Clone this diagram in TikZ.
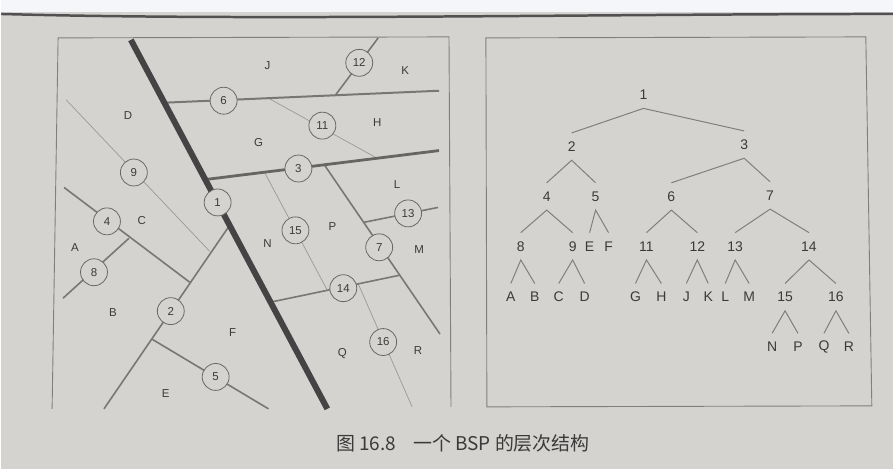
\documentclass[tikz,border=0pt]{standalone}
\usepackage{fontspec}
\setmainfont{Liberation Sans}
\newfontfamily\cjk{Noto Sans CJK SC}
\definecolor{page}{HTML}{D5D3D0}
\definecolor{ink}{HTML}{3A3A3A}
\definecolor{topstrip}{HTML}{F4F6FA}
\begin{document}
\begin{tikzpicture}[x=1pt,y=-1pt,
  frame/.style={draw=ink!55!page, line width=0.9},
  heavy/.style={draw=ink!95, line width=6},
  midln/.style={draw=ink!72!page, line width=2.8},
  regln/.style={draw=ink!60!page, line width=1.6},
  faintln/.style={draw=ink!38!page, line width=0.7},
  circ/.style={circle, draw=ink!70!page, line width=0.8, fill=page, minimum size=27pt, inner sep=0pt, text=ink, font=\fontsize{11.5}{12}\selectfont},
  rlab/.style={text=ink, font=\fontsize{11.5}{12}\selectfont},
  tn/.style={text=ink, font=\fontsize{14}{16}\selectfont, minimum height=27pt, inner sep=0pt},
  tl/.style={draw=ink!55!page, line width=1}
]
% background
\fill[page] (0,0) rectangle (894,470);
\fill[topstrip] (0,0) rectangle (894,12.5);
\draw[line width=2.5, draw=ink!85!page] (0,14) .. controls (250,21) and (600,14) .. (894,14);

% frames
\draw[frame] (51,410) -- (57,38) -- (449,37) -- (451,408);
\draw[frame] (487,408) -- (486,38) -- (867,37) -- (873,407) -- cycle;

% ---------- left panel: partition lines ----------
\coordinate (h0) at (130,40);
\coordinate (h1) at (327,410);
\coordinate (a6) at (163.5,103);   \coordinate (b6) at (439,91);
\coordinate (a12) at (335,95.6);   \coordinate (b12) at (378,38);
\coordinate (a3) at (205,180);     \coordinate (b3) at (439,151);
\coordinate (a11) at (268,98.5);   \coordinate (b11) at (377,158.7);
\coordinate (a7) at (324,165.3);   \coordinate (b7) at (440,335);
\coordinate (a13) at (363.4,223);  \coordinate (b13) at (438,208);
\coordinate (a14) at (270,303);    \coordinate (b14) at (399.5,276);
\coordinate (a15) at (264,172.8);  \coordinate (b15) at (327,291.1);
\coordinate (a16) at (358,284.7);  \coordinate (b16) at (412,408);
\coordinate (a2) at (229,226);     \coordinate (b2) at (103,410);
\coordinate (a5) at (151,340);     \coordinate (b5) at (268,410);
\coordinate (a4) at (63,188);      \coordinate (b4) at (189,283);
\coordinate (a8) at (128,239);     \coordinate (b8) at (62,299);
\coordinate (a9) at (65,100);      \coordinate (b9) at (209,252);

\draw[faintln] (a9) -- (b9);
\draw[faintln] (a11) -- (b11);
\draw[faintln] (a15) -- (b15);
\draw[faintln] (a16) -- (b16);
\draw[regln] (a12) -- (b12);
\draw[regln] (a13) -- (b13);
\draw[regln] (a14) -- (b14);
\draw[regln] (a7) -- (b7);
\draw[regln] (a4) -- (b4);
\draw[regln] (a8) -- (b8);
\draw[regln] (a5) -- (b5);
\draw[regln] (a2) -- (b2);
\draw[regln, line width=2] (a6) -- (b6);
\draw[midln] (a3) -- (b3);
\draw[heavy] (h0) -- (h1);

% circles
\node[circ] (c1) at (217,203) {1};
\node[circ] (c2) at (170,312) {2};
\node[circ] (c3) at (298,169) {3};
\node[circ] (c4) at (106,222) {4};
\node[circ] (c5) at (215,378) {5};
\node[circ] (c6) at (223,101) {6};
\node[circ] (c7) at (379,248) {7};
\node[circ] (c8) at (93,273) {8};
\node[circ] (c9) at (133,173) {9};
\node[circ] (c11) at (322,126) {11};
\node[circ] (c12) at (359,63) {12};
\node[circ] (c13) at (408,214) {13};
\node[circ] (c14) at (343,289) {14};
\node[circ] (c15) at (295,231) {15};
\node[circ] (c16) at (383,343) {16};

% region labels
\node[rlab] (rJ) at (267,66) {J};
\node[rlab] (rK) at (405,71) {K};
\node[rlab] (rD) at (127,116) {D};
\node[rlab] (rG) at (258,143) {G};
\node[rlab] (rH) at (377,123) {H};
\node[rlab] (rL) at (397,185) {L};
\node[rlab] (rC) at (141,221) {C};
\node[rlab] (rA) at (74,248) {A};
\node[rlab] (rB) at (112,313) {B};
\node[rlab] (rN) at (267,244) {N};
\node[rlab] (rP) at (332,227) {P};
\node[rlab] (rM) at (419,250) {M};
\node[rlab] (rF) at (232,333) {F};
\node[rlab] (rE) at (165,395) {E};
\node[rlab] (rQ) at (342,355) {Q};
\node[rlab] (rR) at (418,352) {R};

% ---------- right panel: tree ----------
\node[tn] (t1) at (644,95) {1};
\node[tn] (t2) at (572,147) {2};
\node[tn] (t3) at (745,145) {3};
\node[tn] (t4) at (547,197) {4};
\node[tn] (t5) at (596,197) {5};
\node[tn] (t6) at (672,197) {6};
\node[tn] (t7) at (771,196) {7};
\node[tn] (t8) at (521,247) {8};
\node[tn] (t9) at (573,247) {9};
\node[tn] (tE) at (590,247) {E};
\node[tn] (tF) at (609,247) {F};
\node[tn] (t11) at (647,247) {11};
\node[tn] (t12) at (698,247) {12};
\node[tn] (t13) at (736,247) {13};
\node[tn] (t14) at (810,247) {14};
\node[tn] (tA) at (511,298) {A};
\node[tn] (tB) at (535,298) {B};
\node[tn] (tC) at (559,298) {C};
\node[tn] (tD) at (585,298) {D};
\node[tn] (tG) at (636,298) {G};
\node[tn] (tH) at (662,298) {H};
\node[tn] (tJ) at (687,298) {J};
\node[tn] (tK) at (709,298) {K};
\node[tn] (tL) at (726,298) {L};
\node[tn] (tM) at (750,298) {M};
\node[tn] (t15) at (786,298) {15};
\node[tn] (t16) at (837,298) {16};
\node[tn] (tN) at (773,348) {N};
\node[tn] (tP) at (799,348) {P};
\node[tn] (tQ) at (825,348) {Q};
\node[tn] (tR) at (850,348) {R};

\foreach \p/\a/\b in {t1/t2/t3, t2/t4/t5, t3/t6/t7, t4/t8/t9, t5/tE/tF, t6/t11/t12, t7/t13/t14,
  t8/tA/tB, t9/tC/tD, t11/tG/tH, t12/tJ/tK, t13/tL/tM, t14/t15/t16, t15/tN/tP, t16/tQ/tR}
  \draw[tl] (\a.north) -- (\p.south) -- (\b.north);

% caption
\node[text=ink, font=\cjk\fontsize{19}{21}\selectfont] (cap) at (463,445) {图~16.8\hspace{0.9em}一个 BSP 的层次结构};
\end{tikzpicture}
\end{document}
